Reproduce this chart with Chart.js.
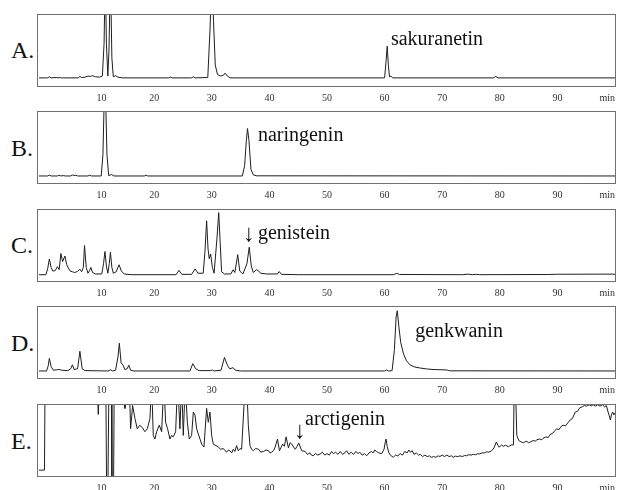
<!DOCTYPE html>
<html>
<head>
<meta charset="utf-8">
<script src="https://cdn.jsdelivr.net/npm/chart.js@4.4.0/dist/chart.umd.min.js"></script>
<style>
  body { margin: 0; background: #fff; }
  #wrap { position: relative; width: 620px; height: 490px; overflow: hidden; }
  .panel { position: absolute; left: 0; }
  .tag { position: absolute; left: 11px; font: 24px 'Liberation Serif', serif; line-height: 24px; color: #111; }
</style>
</head>
<body>
<div id="wrap">
  <div class="tag" style="top:38px">A.</div>
  <div class="tag" style="top:136px">B.</div>
  <div class="tag" style="top:233px">C.</div>
  <div class="tag" style="top:331px">D.</div>
  <div class="tag" style="top:429px">E.</div>
  <canvas class="panel" id="chartA" width="620" height="95" style="top:14px"></canvas>
  <canvas class="panel" id="chartB" width="620" height="95" style="top:111px"></canvas>
  <canvas class="panel" id="chartC" width="620" height="95" style="top:209px"></canvas>
  <canvas class="panel" id="chartD" width="620" height="95" style="top:306px"></canvas>
  <canvas class="panel" id="chartE" width="620" height="95" style="top:404px"></canvas>
</div>
<script>
// retention time (min) and detector signal (% of panel height)
var timeA = [0, 1.5, 1.8, 2.1, 3.0, 3.3, 3.6, 3.9, 4.2, 6.8, 7.1, 7.4, 8.0, 8.5, 8.9, 9.3, 9.8, 10.5, 11.0, 11.3, 11.5, 11.7, 11.95, 12.15, 12.4, 12.65, 12.9, 13.3, 13.7, 14.5, 22.5, 22.8, 23.1, 26.5, 26.8, 27.1, 29.3, 29.7, 30.0, 30.3, 30.6, 31.0, 31.5, 32.0, 32.3, 32.7, 33.2, 60.0, 60.25, 60.45, 60.65, 60.85, 61.1, 61.4, 78.9, 79.3, 79.7, 100];
var sigA  = [12.5, 12.5, 14, 12.5, 13, 12.5, 13, 12.5, 12.5, 12.5, 14.5, 13, 13.5, 15, 14.5, 15.5, 14, 13.5, 15, 60, 160, 60, 15, 50, 160, 40, 14, 15.5, 13.5, 12.5, 12.5, 13.5, 12.5, 12.5, 14, 12.5, 13, 80, 160, 90, 30, 17, 15, 16, 19, 15, 12.5, 12.5, 35, 56, 30, 14, 15, 12.5, 12.5, 14.5, 12.5, 12.5];

var timeB = [0, 1.5, 1.8, 2.1, 3.2, 3.5, 3.8, 4.2, 4.6, 5.5, 5.8, 6.1, 6.4, 6.7, 8.5, 8.8, 9.1, 10.8, 11.1, 11.45, 11.8, 12.1, 12.6, 13.0, 18.3, 18.6, 18.9, 35.3, 35.7, 36.0, 36.2, 36.45, 36.8, 37.2, 37.8, 100];
var sigB  = [11, 11, 12.2, 11, 11, 12, 11, 11.5, 11, 11, 12.5, 11.5, 12, 11, 11, 12, 11, 11, 40, 160, 40, 11.5, 13, 11, 11, 12, 11, 11, 25, 60, 76, 60, 20, 12.5, 11.2, 11];

var timeC = [0, 1.2, 1.5, 1.8, 2.1, 2.4, 2.8, 3.2, 3.5, 3.8, 4.1, 4.5, 4.8, 5.1, 5.4, 5.8, 6.2, 6.7, 7.1, 7.4, 7.7, 7.9, 8.2, 8.5, 8.8, 9.0, 9.3, 9.8, 10.9, 11.2, 11.45, 11.7, 11.95, 12.2, 12.4, 12.65, 12.9, 13.4, 13.9, 14.3, 14.8, 16, 23.8, 24.3, 24.8, 26.5, 27.1, 27.6, 28.5, 28.8, 29.1, 29.35, 29.55, 29.8, 30.1, 30.4, 30.9, 31.2, 31.45, 31.7, 32.2, 33.3, 33.7, 34.0, 34.5, 34.85, 35.4, 36.1, 36.5, 36.85, 37.2, 37.8, 38.5, 39.5, 41.4, 41.7, 42.1, 45, 61.5, 62.1, 62.6, 73.5, 74.5, 75.2, 76, 76.5, 88.5, 90, 99.5, 100];
var sigC  = [10, 10, 18, 31.5, 20, 15, 15.5, 21, 17, 39, 28, 35.6, 24, 19, 15, 14, 13, 14.5, 17.6, 14, 20, 50, 20, 12, 16, 20, 13, 11, 11, 25, 41.7, 22, 12, 25, 40.7, 20, 12, 14, 23.6, 15, 11, 10, 10, 16, 10.5, 10.5, 18, 12, 12, 40, 83.8, 45, 32, 38.4, 20, 12, 60, 95, 55, 14, 11, 11, 16.7, 13, 37.5, 15, 11, 25, 47.7, 22, 13, 17, 12, 11, 11, 14.3, 10.5, 10, 10, 11.8, 10.3, 10, 10.8, 10, 10.5, 10, 10.3, 10.6, 10.8, 10.5];

var timeD = [0, 1.3, 1.6, 1.8, 2.1, 2.5, 3.0, 3.5, 4.0, 5.0, 5.5, 5.8, 6.1, 6.7, 7.1, 7.5, 8.0, 12.0, 12.4, 12.8, 13.3, 13.7, 13.95, 14.25, 14.6, 14.9, 15.3, 15.6, 15.9, 16.5, 26.2, 26.7, 27.2, 27.8, 29.8, 30.1, 30.4, 31.6, 32.2, 32.7, 33.1, 33.7, 34.1, 35, 60.0, 60.3, 60.7, 61.3, 61.7, 62.0, 62.2, 62.5, 62.8, 63.3, 63.8, 64.4, 65.2, 66.2, 67.3, 68.4, 69.6, 70.8, 71.3, 100];
var sigD  = [11, 11, 18, 28.2, 17, 12, 12.5, 13, 12, 11.5, 14, 19.4, 13, 14, 38, 14, 11.5, 11, 12.5, 11, 12, 30, 49, 22, 19, 13, 14, 19, 12, 11, 11, 21, 14, 11.5, 11.5, 12.5, 11, 12, 29.6, 19, 14, 15.5, 12, 11, 11, 12.5, 11, 11.5, 40, 85, 93.5, 70, 50, 34, 25, 19.4, 16.5, 15, 13.8, 13, 12.7, 12.4, 11.2, 11];

var timeE = [0, 0.95, 1.05, 10.1, 10.29, 10.5, 11.6, 11.73, 11.97, 12.14, 12.55, 12.66, 12.95, 13.06, 14.8, 14.92, 15.05, 15.67, 15.9, 16.25, 16.66, 17.06, 17.52, 17.99, 18.39, 18.8, 19.26, 19.55, 19.84, 20.13, 20.42, 20.88, 21.29, 21.69, 21.98, 22.33, 22.73, 23.02, 23.31, 23.72, 24.07, 24.47, 24.76, 25.05, 25.4, 25.75, 26.09, 26.5, 26.79, 27.08, 27.37, 27.95, 28.24, 28.64, 29.1, 29.39, 29.68, 29.97, 30.26, 30.73, 31.13, 31.54, 32.0, 32.3, 32.58, 32.9, 33.15, 33.45, 33.73, 34.0, 34.31, 34.6, 34.9, 35.18, 35.6, 35.76, 36.05, 36.34, 36.63, 36.9, 37.21, 37.6, 38.1, 38.5, 38.97, 39.4, 39.84, 40.1, 40.4, 40.7, 41.0, 41.4, 41.75, 42.0, 42.3, 42.6, 42.9, 43.3, 43.6, 43.9, 44.2, 44.5, 44.8, 45.1, 45.6, 46.2, 46.6, 47.0, 47.3, 47.6, 48.0, 48.4, 48.8, 49.2, 49.6, 50.0, 50.4, 50.8, 51.1, 51.5, 51.9, 52.3, 52.7, 53.1, 53.4, 53.8, 54.2, 54.6, 55.0, 55.4, 55.7, 56.1, 56.5, 56.9, 57.3, 57.7, 58.0, 58.3, 58.6, 59.0, 59.5, 59.9, 60.1, 60.25, 60.45, 60.7, 61.0, 61.5, 61.9, 62.3, 62.7, 63.1, 63.5, 63.9, 64.2, 64.5, 64.8, 65.1, 65.5, 65.9, 66.2, 66.6, 67.0, 67.4, 67.8, 68.1, 68.5, 68.9, 69.3, 69.6, 70.0, 70.4, 70.8, 71.2, 71.6, 71.9, 72.3, 72.7, 73.1, 73.5, 73.9, 74.2, 74.6, 75.0, 75.4, 75.8, 76.2, 76.5, 76.9, 77.3, 77.7, 78.1, 78.6, 79.0, 79.4, 79.7, 79.9, 80.3, 80.6, 81.0, 81.5, 82.0, 82.37, 82.5, 82.7, 82.95, 83.3, 83.7, 84.1, 84.6, 85.0, 85.3, 85.8, 86.2, 86.4, 86.9, 87.3, 87.5, 88.0, 88.4, 88.7, 89.2, 89.6, 89.9, 90.3, 90.6, 91.0, 91.4, 91.8, 92.2, 92.6, 93.1, 93.5, 93.9, 94.3, 94.7, 95.1, 95.5, 95.9, 96.2, 96.6, 97.0, 97.4, 97.8, 98.2, 98.5, 98.8, 99.0, 99.2, 99.4, 99.6, 99.8, 100];
var sigE  = [9.3, 9.5, 130, 130, 85.7, 130, 130, -10, -10, 130, 130, -10, -10, 130, 130, 94, 130, 130, 66, 98, 80, 66, 71, 67, 62, 66, 80, 130, 57, 52, 62, 71, 62, 130, 75, 66, 52, 57, 55, 62, 130, 66, 130, 57, 130, 75, 52, 57, 89, 85, 66, 52, 45, 41, 94, 75, 89, 57, 45, 43, 41, 38, 39, 36, 34, 37, 36, 33, 38, 35, 43, 36, 39, 38, 100, 130, 130, 71, 43, 38, 36, 39, 38, 34, 35, 37, 36, 33, 34, 36, 41, 52, 36, 40, 45, 42, 55, 40, 47, 45, 41, 38, 42, 46.6, 36, 35, 31, 33, 30, 29, 32, 30, 31.5, 34, 30, 32, 30, 35, 32, 34, 31, 35, 31, 33, 36, 31, 34, 31, 35, 32, 34, 30, 32, 29.2, 33, 35, 33, 37, 35, 33, 32, 38, 47, 52, 42, 34, 30, 27, 30, 29, 32, 30, 35, 33, 37, 34, 36, 31, 33, 30, 31, 28, 30, 28, 29, 27, 28, 27, 29, 28, 30, 28, 30, 28, 29, 27, 28.5, 28, 29, 28, 29.5, 29, 30.5, 30, 31, 30.5, 32, 31.5, 33, 33, 34.5, 34, 36, 40, 48, 43, 40.7, 44, 42, 43.5, 41.5, 44, 44, 130, 130, 57, 50, 48, 47, 49, 47, 48, 50, 49, 51, 52, 51, 53, 55, 54, 58, 60, 64, 66, 65, 69, 71, 70, 74, 78, 80, 89, 90, 95, 96, 98, 97, 99, 97.5, 99, 97, 99, 97, 99, 96, 98, 89, 84, 78, 86, 89, 85, 88];

// compound labels: [text, time, signal]
var notesA = [['sakuranetin', 61.1, 57]];
var notesB = [['naringenin', 38.0, 58.3]];
var notesC = [['genistein', 38.0, 59.3]];
var notesD = [['genkwanin', 65.3, 57.4]];
var notesE = [['arctigenin', 46.2, 70.8]];
var arrowsC = [[36.46, 56.5]];
var arrowsE = [[45.3, 53]];

var xTicks = [10, 20, 30, 40, 50, 60, 70, 80, 90];

var serif = "'Liberation Serif', 'DejaVu Serif', serif";

var framePlugin = {
    id: 'frame',
    afterDraw: function (chart) {
        var ctx = chart.ctx, a = chart.chartArea;
        var xs = chart.scales.x, ys = chart.scales.y;
        ctx.save();
        ctx.strokeStyle = '#707070';
        ctx.lineWidth = 1;
        ctx.strokeRect(Math.round(a.left) - 1.5, Math.round(a.top) + 0.5,
            Math.round(a.right) - Math.round(a.left) + 2, Math.round(a.bottom) - Math.round(a.top) - 1);
        ctx.fillStyle = '#111';
        ctx.font = '20px ' + serif;
        ctx.textBaseline = 'alphabetic';
        ctx.textAlign = 'left';
        (chart.options.plugins.frame.notes || []).forEach(function (n) {
            ctx.fillText(n[0], xs.getPixelForValue(n[1]), ys.getPixelForValue(n[2]));
        });
        ctx.textAlign = 'center';
        ctx.font = '24px ' + serif;
        (chart.options.plugins.frame.arrows || []).forEach(function (n) {
            ctx.fillText('\u2193', xs.getPixelForValue(n[0]), ys.getPixelForValue(n[1]));
        });
        ctx.restore();
    }
};

function makePanel(id, times, sig, notes, arrows) {
    var ctx = document.getElementById(id).getContext('2d');
    return new Chart(ctx, {
        type: 'line',
        data: {
            datasets: [{
                data: times.map(function (t, i) { return { x: t, y: sig[i] }; }),
                borderColor: '#1e1e1e',
                borderWidth: 1,
                pointRadius: 0,
                tension: 0,
                fill: false
            }]
        },
        options: {
            responsive: false,
            animation: false,
            layout: { padding: { left: 39, right: 5, top: 0, bottom: 0 } },
            plugins: {
                legend: { display: false },
                tooltip: { enabled: false },
                frame: { notes: notes, arrows: arrows }
            },
            scales: {
                x: {
                    type: 'linear',
                    min: 0,
                    max: 100,
                    afterBuildTicks: function (s) {
                        s.ticks = xTicks.concat([100]).map(function (v) { return { value: v }; });
                    },
                    afterFit: function (s) { s.paddingLeft = 0; s.paddingRight = 0; },
                    grid: { display: false, drawTicks: false },
                    border: { display: false },
                    ticks: {
                        padding: 5,
                        align: 'inner',
                        maxRotation: 0,
                        autoSkip: false,
                        color: '#333',
                        font: { family: serif, size: 10 },
                        callback: function (v) { return v === 100 ? 'min' : v; }
                    }
                },
                y: { display: false, min: 0, max: 100 }
            }
        },
        plugins: [framePlugin]
    });
}

makePanel('chartA', timeA, sigA, notesA, []);
makePanel('chartB', timeB, sigB, notesB, []);
makePanel('chartC', timeC, sigC, notesC, arrowsC);
makePanel('chartD', timeD, sigD, notesD, []);
makePanel('chartE', timeE, sigE, notesE, arrowsE);
</script>
</body>
</html>
